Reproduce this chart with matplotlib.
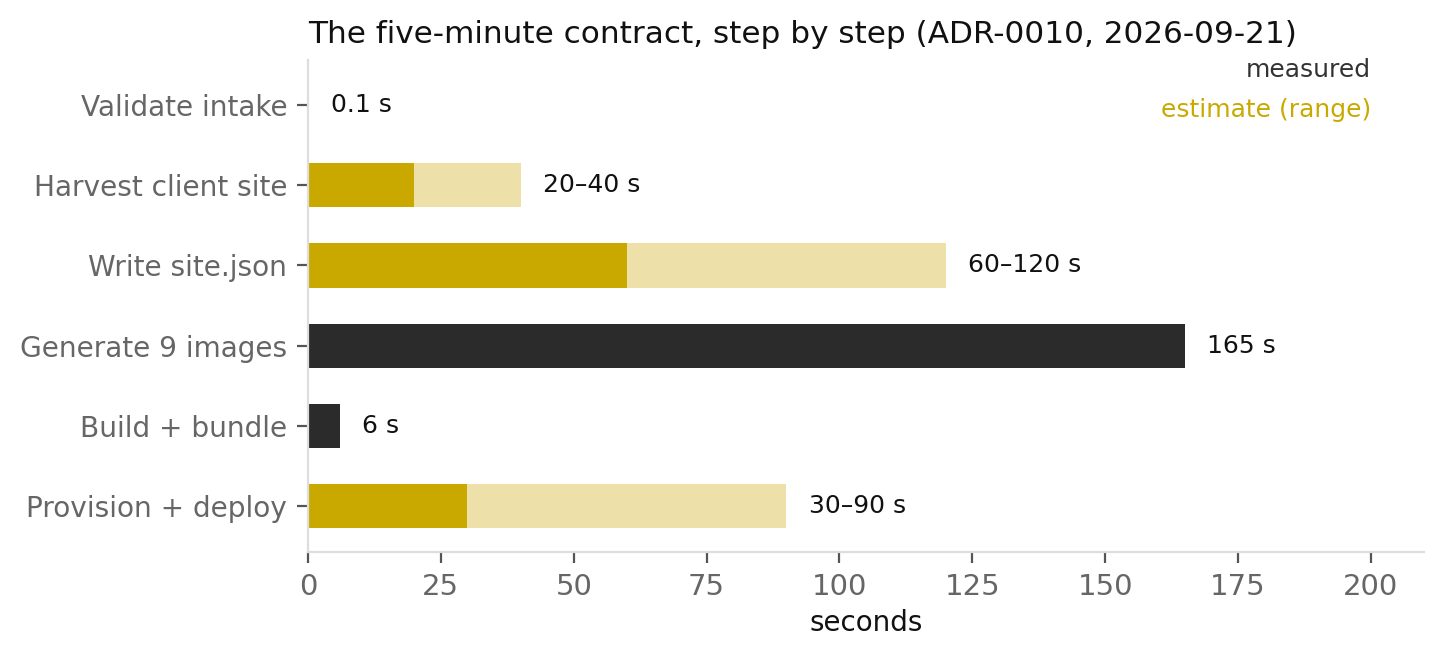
import matplotlib
matplotlib.use("Agg")
import matplotlib.pyplot as plt

steps = ["Validate intake", "Harvest client site", "Write site.json",
         "Generate 9 images", "Build + bundle", "Provision + deploy"]
kind = ["measured", "estimate", "estimate", "measured", "measured", "estimate"]
low = [0.1, 20, 60, 165, 6, 30]
high = [0.1, 40, 120, 165, 6, 90]
labels = ["0.1 s", "20–40 s", "60–120 s", "165 s", "6 s", "30–90 s"]

DARK = "#2b2b2b"
GOLD = "#c9a900"
PALE = "#ede0a8"
GRAY = "#666666"

fig = plt.figure(figsize=(7.22, 3.295), dpi=200)
ax = fig.add_axes([308/1444, 1 - 552/659, (1424-308)/1444, (552-60)/659])

n = len(steps)
ypos = [n - 1 - i for i in range(n)]
h = 0.55
for y, k, lo, hi, lab in zip(ypos, kind, low, high, labels):
    if k == "measured":
        ax.barh(y, lo, height=h, color=DARK)
    else:
        ax.barh(y, lo, height=h, color=GOLD)
        ax.barh(y, hi - lo, left=lo, height=h, color=PALE)
    ax.annotate(lab, (hi, y), xytext=(8, 0), textcoords="offset points",
                va="center", ha="left", fontsize=9, color="#111111")

ax.set_yticks(ypos)
ax.set_yticklabels(steps)
ax.set_xlim(0, 210)
ax.set_ylim(-0.57, 5.56)
ax.set_xticks([0, 25, 50, 75, 100, 125, 150, 175, 200])
ax.set_xlabel("seconds", fontsize=10, color="#111111", labelpad=3)
ax.tick_params(axis="both", colors="#555555", labelcolor=GRAY, labelsize=10.1, length=4, width=0.8)
ax.tick_params(axis="x", labelsize=10.5)
for s in ["top", "right"]:
    ax.spines[s].set_visible(False)
for s in ["left", "bottom"]:
    ax.spines[s].set_color("#dddddd")
    ax.spines[s].set_linewidth(0.8)

ax.text(0.9525, 0.98, "measured", transform=ax.transAxes, ha="right", va="center",
        fontsize=9, color="#333333")
ax.text(0.9525, 0.898, "estimate (range)", transform=ax.transAxes, ha="right", va="center",
        fontsize=9, color=GOLD)

ax.set_title("The five-minute contract, step by step (ADR-0010, 2026-09-21)",
             loc="left", fontsize=11.2, color="#111111", pad=6)

fig.savefig("out.png", dpi=200)
